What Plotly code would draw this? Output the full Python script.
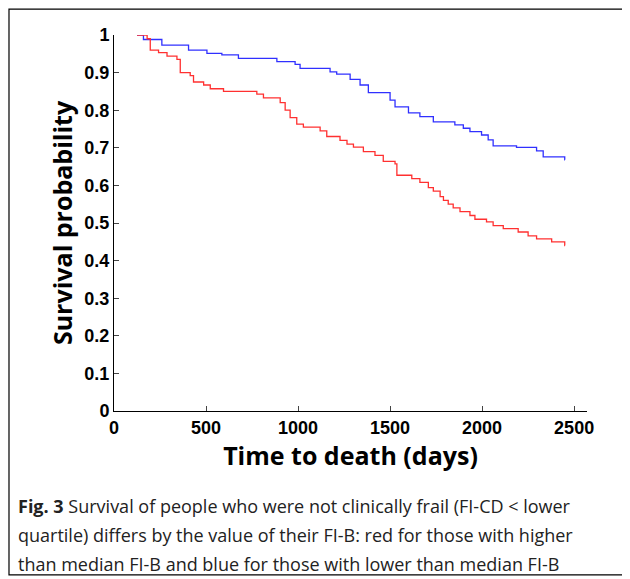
import plotly.graph_objects as go

# Kaplan-Meier step curves (days, survival probability)
blue_days = [125, 160, 260, 405, 505, 586, 676, 885, 984, 1011, 1174, 1210, 1283, 1337, 1382, 1500, 1527,
             1600, 1662, 1735, 1852, 1898, 1934, 1997, 2033, 2060, 2187, 2296, 2332, 2449, 2450]
blue_surv = [1.0, 0.988, 0.973, 0.960, 0.951, 0.947, 0.938, 0.929, 0.922, 0.911, 0.902, 0.896, 0.882, 0.867,
             0.847, 0.827, 0.809, 0.793, 0.783, 0.769, 0.761, 0.752, 0.743, 0.734, 0.721, 0.705, 0.701,
             0.692, 0.676, 0.668, 0.668]

red_days = [125, 180, 197, 242, 288, 342, 360, 414, 432, 487, 523, 595, 776, 812, 903, 930, 957, 993, 1029,
            1120, 1156, 1228, 1266, 1301, 1355, 1418, 1463, 1527, 1537, 1618, 1662, 1708, 1735, 1772, 1790,
            1816, 1843, 1880, 1934, 1961, 2024, 2060, 2115, 2196, 2250, 2296, 2378, 2449, 2450]
red_surv = [1.0, 0.99, 0.96, 0.953, 0.944, 0.935, 0.90, 0.892, 0.875, 0.867, 0.857, 0.85, 0.843, 0.833, 0.82,
            0.80, 0.78, 0.763, 0.755, 0.745, 0.73, 0.72, 0.71, 0.702, 0.69, 0.68, 0.664, 0.657, 0.627, 0.618,
            0.608, 0.594, 0.585, 0.57, 0.56, 0.55, 0.54, 0.53, 0.52, 0.51, 0.503, 0.493, 0.485, 0.476, 0.466,
            0.458, 0.45, 0.44, 0.44]

x_ticks = [0, 500, 1000, 1500, 2000, 2500]
y_ticks = [0, 0.1, 0.2, 0.3, 0.4, 0.5, 0.6, 0.7, 0.8, 0.9, 1]
y_labels = ['0', '0.1', '0.2', '0.3', '0.4', '0.5', '0.6', '0.7', '0.8', '0.9', '1']

fig = go.Figure()
fig.add_trace(go.Scatter(x=blue_days, y=blue_surv, mode='lines', line=dict(color='#3030ff', width=1.3, shape='hv')))
fig.add_trace(go.Scatter(x=red_days, y=red_surv, mode='lines', line=dict(color='#ff3030', width=1.3, shape='hv')))

tickfont = dict(family='Liberation Sans, Arial', size=18, color='black', weight='bold')
titlefont = dict(family='Open Sans', size=25, color='black', weight='bold')
# page has an 8px body margin, so the figure is 8px smaller on each side
fig.update_layout(
    width=622, height=571, showlegend=False,
    plot_bgcolor='white', paper_bgcolor='white',
    margin=dict(l=106, r=43, t=27, b=168),
    xaxis=dict(range=[0, 2570], tickvals=x_ticks, ticks='inside', ticklen=5, showline=True, linecolor='black',
               showgrid=False, zeroline=False, tickfont=tickfont, automargin=False,
               title=dict(text='Time to death (days)', font=titlefont, standoff=4)),
    yaxis=dict(range=[0, 1], tickvals=y_ticks, ticktext=y_labels, ticks='inside', ticklen=5, showline=True,
               linecolor='black', showgrid=False, zeroline=False, tickfont=tickfont, automargin=False,
               title=dict(text='Survival probability', font=titlefont, standoff=4)),
)

# frame around the whole figure
fig.add_shape(type='rect', xref='paper', yref='paper', x0=-0.222, x1=1.080, y0=-0.436, y1=1.069,
              line=dict(color='black', width=1.2), fillcolor='rgba(0,0,0,0)', layer='below')

caption = ['<b>Fig. 3</b> Survival of people who were not clinically frail (FI-CD < lower',
           'quartile) differs by the value of their FI-B: red for those with higher',
           'than median FI-B and blue for those with lower than median FI-B']
for i, line in enumerate(caption):
    fig.add_annotation(xref='paper', yref='paper', x=-0.207, y=-0.253 - i * 0.0775, xanchor='left', yanchor='middle',
                       text=line, showarrow=False, font=dict(family='Open Sans', size=18, color='#222'))

fig.write_html('out.html')
